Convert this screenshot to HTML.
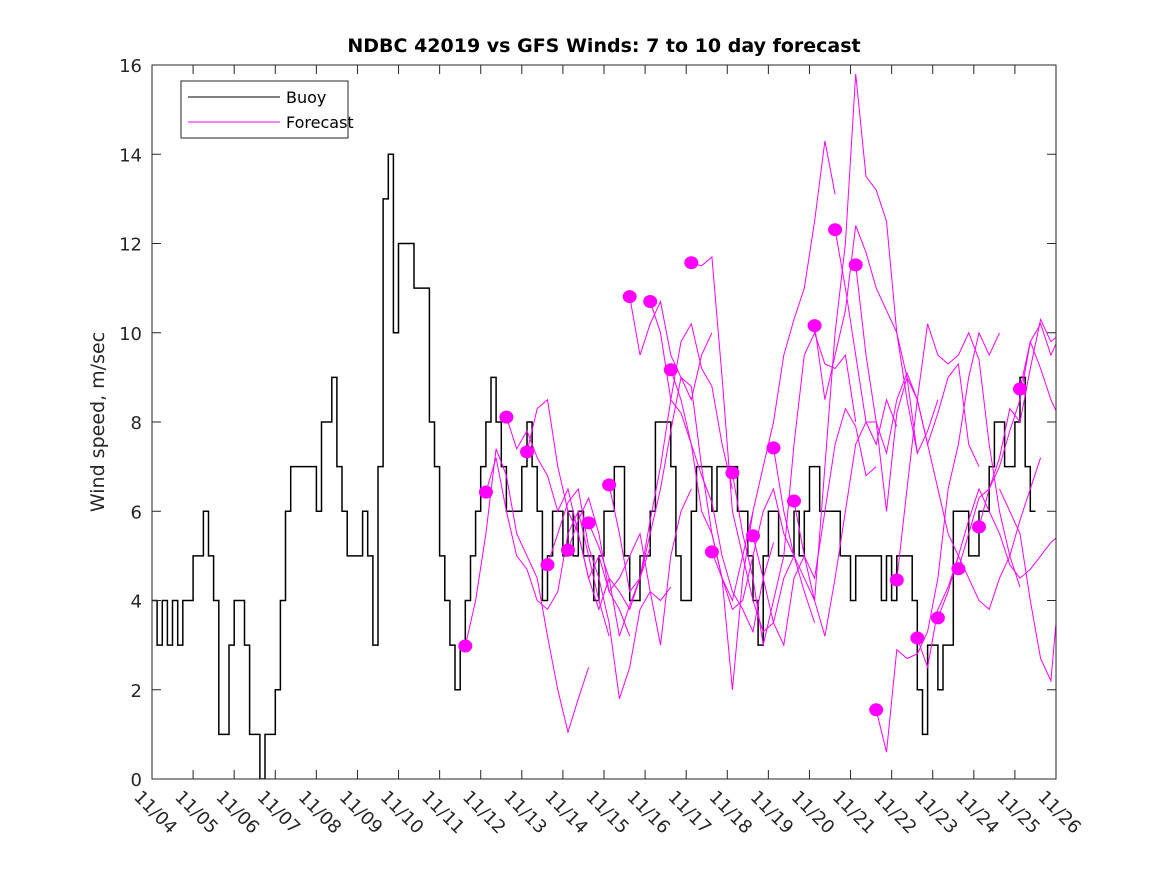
<!DOCTYPE html>
<html><head><meta charset="utf-8"><style>
body{margin:0;background:#fff;}
svg{display:block;font-family:"DejaVu Sans","Liberation Sans",sans-serif;}
</style></head><body>
<svg id="chart" width="1167" height="875" viewBox="0 0 1167 875">
<defs><clipPath id="pc"><rect x="152" y="65" width="904" height="714"/></clipPath></defs>
<rect x="0" y="0" width="1167" height="875" fill="#fff"/>
<rect x="152" y="65" width="904" height="714" fill="#fff"/>
<g id="series" clip-path="url(#pc)"></g>
<g id="axes"></g>
<text x="604" y="52" text-anchor="middle" font-size="19" font-weight="bold" fill="#000">NDBC 42019 vs GFS Winds: 7 to 10 day forecast</text>
<text transform="translate(104,422) rotate(-90)" text-anchor="middle" font-size="19" fill="#262626">Wind speed, m/sec</text>
<g>
<rect x="181" y="81" width="167" height="57" fill="#fff" stroke="#262626" stroke-width="1"/>
<line x1="188" y1="97" x2="280" y2="97" stroke="#000" stroke-width="1"/>
<text x="286" y="103" font-size="16" fill="#000">Buoy</text>
<line x1="188" y1="122" x2="280" y2="122" stroke="#f0f" stroke-width="1"/>
<text x="286" y="128" font-size="16" fill="#000">Forecast</text>
</g>
</svg>
<script>
const xTickLabels=["11/04","11/05","11/06","11/07","11/08","11/09","11/10","11/11","11/12","11/13","11/14","11/15","11/16","11/17","11/18","11/19","11/20","11/21","11/22","11/23","11/24","11/25","11/26"];
const yTicks=[0,2,4,6,8,10,12,14,16];
// buoy wind speed, 3-hourly from 11/04 00:00
const buoy=[4,3,4,3,4,3,4,4, 5,5,6,5,4,1,1,3, 4,4,3,1,1,0,1,1, 2,4,6,7,7,7,7,7,
 6,8,8,9,7,6,5,5, 5,6,5,3,7,13,14,10, 12,12,12,11,11,11,8,7, 5,4,3,2,3,4,5,6,
 7,8,9,8,7,6,6,6, 7,8,7,6,4,5,6,6, 5,6,5,6,5,5,4,5, 6,6,7,7,5,4,4,5,
 5,6,8,8,8,7,5,4, 4,6,7,7,7,6,7,7, 7,7,6,6,5,4,3,5, 6,6,5,5,5,6,5,6,
 7,7,6,6,6,6,5,5, 4,5,5,5,5,5,4,5, 4,5,5,5,4,2,1,3, 3,2,3,3,6,6,6,5,
 5,6,6,7,8,8,7,7, 8,9,7,6];
// forecast start days (from 11/04) and 6-hourly values
const fcStart=[7.625,8.125,8.625,9.125,9.625,10.125,10.625,11.125,11.625,12.125,12.625,13.125,13.625,14.125,14.625,15.125,15.625,16.125,16.625,17.125,17.625,18.125,18.625,19.125,19.625,20.125,20.625,21.125];
const fcDot=[1,1,1,1,1,1,1,1,1,1,1,1,1,1,1,1,1,1,1,1,1,1,1,1,1,1,0,1];
const fc0=[2.98,4,5.5,7.4,6.8,5.5,5,4.5,3.2,2,1.05,1.8,2.5];
const fc1=[6.43,7.2,6,5,4.7,4,3.8,4.2,5.5,6,5,4,3.2];
const fc2=[8.11,7.4,7.8,7.2,6.8,6,6.5,5.5,4.5,5,4.2,3.8,3.2];
const fc3=[7.33,8.3,8.5,7,6,5.5,4.5,3.8,4.5,3.2,3.9,4.5,5.2];
const fc4=[4.8,5.5,6.2,6.5,5.2,4.5,3.5,1.8,2.5,3.8,4.2,4,4.3];
const fc5=[5.13,5.8,6.3,5.5,4.2,4.5,5,5.5,4.2,3,5,6,6.5];
const fc6=[5.74,5.2,4.5,4.2,3.8,4.5,5.5,6.5,7.8,9,8.5,9.5,10];
const fc7=[6.59,5.5,4.2,4.5,5.8,7,8.5,9.8,10.2,9.2,8.8,7.5,6.5];
const fc8=[10.81,9.5,10.2,10.7,9.5,9,8.8,7,5.5,4.5,2,4.5,6];
const fc9=[10.7,10,8.5,8.2,7.5,6.8,6.2,5,4.2,3.8,3.3,4.5,5.3];
const fc10=[9.17,8.5,7.5,6,5.5,4.5,3.8,4,5,6,6.5,5.5,5];
const fc11=[11.57,11.5,11.7,9,6,5,4,3.3,3.5,4.5,5,4.2,3.5];
const fc12=[5.09,4.5,4,5,6,7,8,9.5,10.3,11,12.5,14.3,13.1];
const fc13=[6.86,5.5,4.5,3,4,5,7.5,9.5,10,9.3,9.2,9.5,8];
const fc14=[5.45,4.5,3.5,3,4.5,5,4.5,6,7.5,8.3,7.9,6.8,7];
const fc15=[7.42,6,5,4.5,4,3.2,4.5,6,7.5,8,7.5,8.5,7.9];
const fc16=[6.23,5,4,7,10,12,15.8,13.5,13.2,12.5,10,9,7.3];
const fc17=[10.16,8.5,9.5,10.5,12.4,11.8,11,10.5,10,8.5,7.3,7.8,8.5];
const fc18=[12.31,11,9.5,8,8,7.3,8.5,9.1,8.5,7.5,6.5,5.5,5];
const fc19=[11.52,9.5,8,6,8.2,9,8.5,7.5,8.2,9,9.3,7.5,7];
const fc20=[1.55,0.6,2.9,2.7,2.8,3.3,4.5,6.5,7.5,9,10,9.5,10];
const fc21=[4.46,6.5,8.5,10.2,9.5,9.3,9.5,10,9.4,7.5,6,5,4.3];
const fc22=[3.16,2.5,3.8,4.3,5,4.5,4,3.8,4.5,5,5.8,6.5,7.2];
const fc23=[3.61,4.2,5,5.8,6.5,6,5.5,4.8,4.5,4.7,5,5.3,5.5];
const fc24=[4.71,5.5,6.3,6.5,7,7.8,8.5,9.8,10.2,9.5,10,10.9,9.5];
const fc25=[5.65,6.5,7.2,8.3,8,9.2,10.3,9.8,10,9.5,9.6,9.5,9.5];
const fc26=[6.5,6,5.5,4,2.7,2.2,4.8,5.5,6,6,6,6,6];
const fc27=[8.74,9.8,9.2,8.5,8,8,8,8,8,8,8,8,8];
const forecasts=[fc0,fc1,fc2,fc3,fc4,fc5,fc6,fc7,fc8,fc9,fc10,fc11,fc12,fc13,fc14,fc15,fc16,fc17,fc18,fc19,fc20,fc21,fc22,fc23,fc24,fc25,fc26,fc27];

const X0=152,X1=1056,Y0=779,Y1=65,NDAYS=22,YMAX=16;
function xs(d){return X0+(X1-X0)*d/NDAYS;}
function ys(v){return Y0-(Y0-Y1)*v/YMAX;}
const NS="http://www.w3.org/2000/svg";
const series=document.getElementById('series');
const axes=document.getElementById('axes');
function mk(t,attrs,parent){const e=document.createElementNS(NS,t);for(const k in attrs)e.setAttribute(k,attrs[k]);parent.appendChild(e);return e;}

// buoy step line
let d="";
buoy.forEach((v,i)=>{const t0=i/8,t1=(i+1)/8;
 d+=(i===0?"M":"L")+xs(t0).toFixed(1)+","+ys(v).toFixed(1)+"L"+xs(t1).toFixed(1)+","+ys(v).toFixed(1);});
const bl=mk('path',{d:d,fill:'none',stroke:'#000','stroke-width':1.5},series);



// forecasts
forecasts.forEach((arr,k)=>{
 let p="";
 arr.forEach((v,i)=>{p+=(i===0?"M":"L")+xs(fcStart[k]+i*0.25).toFixed(1)+","+ys(v).toFixed(1);});
 const pl=mk('path',{d:p,fill:'none',stroke:'#f0f','stroke-width':1},series);
 
 
});
forecasts.forEach((arr,k)=>{
 if(!fcDot[k])return;
 const c=mk('ellipse',{cx:xs(fcStart[k]).toFixed(1),cy:ys(arr[0]).toFixed(1),rx:7,ry:6.5,fill:'#f0f'},series);
 
 
});

// axes box
const box=mk('rect',{x:X0,y:Y1,width:X1-X0,height:Y0-Y1,fill:'none',stroke:'#262626','stroke-width':1},axes);


xTickLabels.forEach((lab,i)=>{
 const x=xs(i);
 mk('line',{x1:x,y1:Y0,x2:x,y2:Y0-9,stroke:'#262626'},axes);
 mk('line',{x1:x,y1:Y1,x2:x,y2:Y1+9,stroke:'#262626'},axes);
 const t=mk('text',{x:0,y:0,'font-size':18,fill:'#262626',transform:'translate('+(x-10)+',789) rotate(45)','dominant-baseline':'hanging'},axes);
 t.textContent=lab;
 
 
});
yTicks.forEach(v=>{
 const y=ys(v);
 mk('line',{x1:X0,y1:y,x2:X0+9,y2:y,stroke:'#262626'},axes);
 mk('line',{x1:X1,y1:y,x2:X1-9,y2:y,stroke:'#262626'},axes);
 const t=mk('text',{x:142,y:y+7,'font-size':18,fill:'#262626','text-anchor':'end'},axes);
 t.textContent=v;
 
 
});
</script>
</body></html>
